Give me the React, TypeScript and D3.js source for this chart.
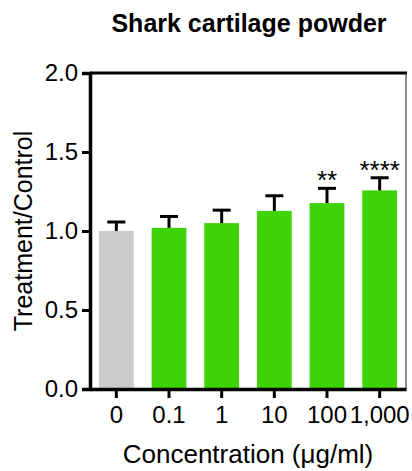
import * as d3 from 'd3';
import React, { useRef, useEffect } from 'react';

const categories = ['0', '0.1', '1', '10', '100', '1,000'];
const means = [1.0, 1.02, 1.05, 1.127, 1.177, 1.257];
const errors = [0.057, 0.072, 0.082, 0.096, 0.093, 0.08];
const stars = ['', '', '', '', '**', '****'];
const yTicks = [0, 0.5, 1.0, 1.5, 2.0];

function App() {
    const ref = useRef<SVGSVGElement>(null);
    const width = 412;
    const height = 471;

    useEffect(() => {
        const svg = d3.select(ref.current);
        svg.selectAll('*').remove();

        const margin = { top: 73, right: 6, bottom: 82, left: 90 };
        const font = '"Liberation Sans", Arial, sans-serif';

        const x = d3.scaleBand()
            .domain(categories)
            .range([margin.left, width - margin.right])
            .paddingInner(0.34)
            .paddingOuter(0.17);
        const y = d3.scaleLinear().domain([0, 2]).range([height - margin.bottom, margin.top]);

        // title
        svg.append('text')
            .attr('x', 249)
            .attr('y', 32)
            .attr('text-anchor', 'middle')
            .style('font-family', font)
            .style('font-weight', 'bold')
            .style('font-size', '25px')
            .text('Shark cartilage powder');

        // frame top + right
        svg.append('line')
            .attr('x1', margin.left).attr('x2', width - margin.right + 1)
            .attr('y1', y(2)).attr('y2', y(2))
            .attr('stroke', '#000').attr('stroke-width', 3);
        svg.append('line')
            .attr('x1', width - margin.right).attr('x2', width - margin.right)
            .attr('y1', y(2)).attr('y2', y(0))
            .attr('stroke', '#444').attr('stroke-width', 1.2);

        // bars
        svg.append('g').selectAll('rect')
            .data(means)
            .join('rect')
            .attr('x', (d, i) => x(categories[i]))
            .attr('y', d => y(d))
            .attr('width', x.bandwidth())
            .attr('height', d => y(0) - y(d))
            .attr('fill', (d, i) => i === 0 ? '#cbcbcb' : '#3ed305');

        // error bars
        const eb = svg.append('g');
        means.forEach((m, i) => {
            const cx = x(categories[i]) + x.bandwidth() / 2;
            eb.append('line')
                .attr('x1', cx).attr('x2', cx)
                .attr('y1', y(m)).attr('y2', y(m + errors[i]))
                .attr('stroke', '#000').attr('stroke-width', 3);
            eb.append('line')
                .attr('x1', cx - 9).attr('x2', cx + 9)
                .attr('y1', y(m + errors[i])).attr('y2', y(m + errors[i]))
                .attr('stroke', '#000').attr('stroke-width', 3);
            if (stars[i]) {
                eb.append('text')
                    .attr('x', cx)
                    .attr('y', y(m + errors[i]) + 1)
                    .attr('text-anchor', 'middle')
                    .style('font-family', font)
                    .style('font-size', '26px')
                    .text(stars[i]);
            }
        });

        // y axis
        const yAxis = svg.append('g')
            .attr('transform', `translate(${margin.left},0)`)
            .call(d3.axisLeft(y).tickValues(yTicks).tickFormat(d3.format('.1f')).tickSize(8).tickPadding(4));
        yAxis.select('.domain').attr('stroke-width', 3.5);
        yAxis.selectAll('.tick line').attr('stroke-width', 3);
        yAxis.selectAll('text').style('font-family', font).style('font-size', '24px').attr('fill', '#000');

        // x axis
        const xAxis = svg.append('g')
            .attr('transform', `translate(0,${y(0)})`)
            .call(d3.axisBottom(x).tickSize(9).tickSizeOuter(0).tickPadding(8));
        xAxis.select('.domain').attr('stroke-width', 3.5);
        xAxis.selectAll('.tick line').attr('stroke-width', 3);
        xAxis.selectAll('text').style('font-family', font).style('font-size', '24px').attr('fill', '#000');

        // axis labels
        svg.append('text')
            .attr('transform', `translate(32,${(y(0) + y(2)) / 2}) rotate(-90)`)
            .attr('text-anchor', 'middle')
            .style('font-family', font)
            .style('font-size', '25px')
            .text('Treatment/Control');

        svg.append('text')
            .attr('x', 248)
            .attr('y', 463)
            .attr('text-anchor', 'middle')
            .style('font-family', font)
            .style('font-size', '26px')
            .text('Concentration (μg/ml)');
    }, []);

    return (
        <svg ref={ref} width={width} height={height} style={{ position: 'absolute', left: 0, top: 0 }}></svg>
    );
}

export default App;
